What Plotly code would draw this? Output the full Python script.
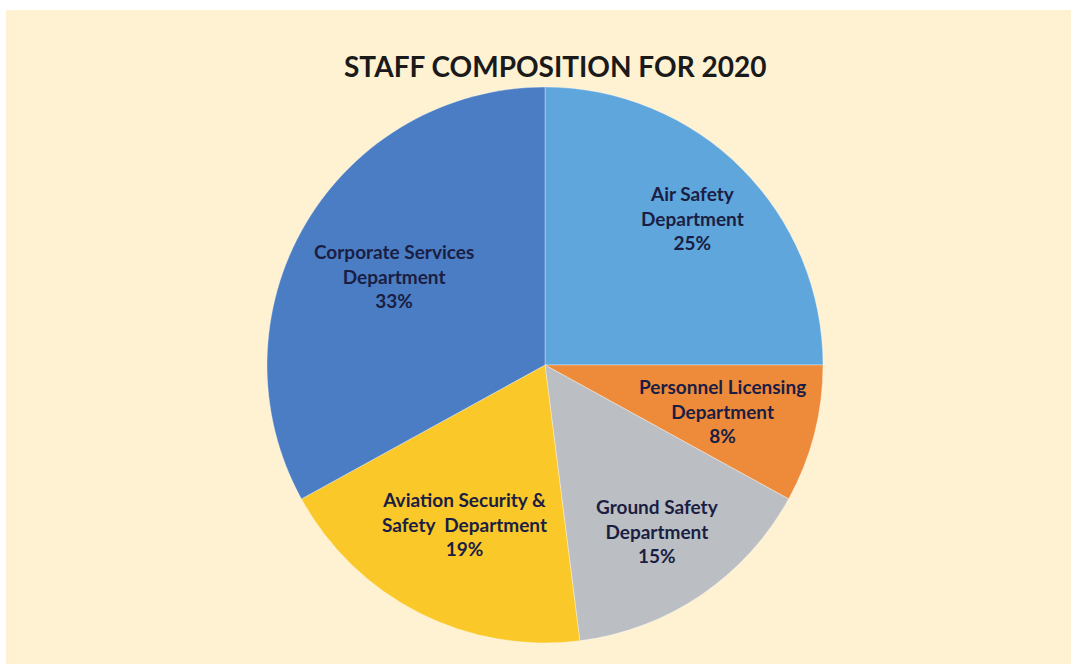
import numpy as np
import plotly.graph_objects as go

# Staff share by department, clockwise from 12 o'clock
departments = [
    "Air Safety<br>Department",
    "Personnel Licensing<br>Department",
    "Ground Safety<br>Department",
    "Aviation Security &<br>Safety  Department",
    "Corporate Services<br>Department",
]
shares = [25, 8, 15, 19, 33]
colors = ["#5FA6DD", "#EE8B3B", "#BBBEC3", "#FAC829", "#4A7DC3"]

title_text = "STAFF COMPOSITION FOR 2020"

W, H = 1071, 664
CX, CY = 545, 365          # pie centre (px from top-left)
R = 278                    # pie radius (px)
label_radius = [0.75, 0.66, 0.72, 0.64, 0.63]   # label distance from centre, fraction of R

BG = "#FEF2D3"
TEXT = "#1B1E43"

fig = go.Figure()
fig.add_trace(go.Pie(
    labels=departments,
    values=shares,
    sort=False,
    direction="clockwise",
    rotation=0,
    marker=dict(colors=colors, line=dict(color="rgba(255,255,255,0.35)", width=1)),
    textinfo="none",
    hoverinfo="label+percent",
    showlegend=False,
    domain=dict(x=[(CX - R) / W, (CX + R) / W],
                y=[(H - CY - R) / H, (H - CY + R) / H]),
))

# Slice labels placed along each slice's bisector
total = float(sum(shares))
cum = np.cumsum([0] + shares)
annotations = []
for i, (name, v) in enumerate(zip(departments, shares)):
    mid = (cum[i] + v / 2.0) / total * 2 * np.pi
    r = R * label_radius[i]
    px = CX + r * np.sin(mid)
    py = CY - r * np.cos(mid)
    annotations.append(dict(
        x=px / W, y=1 - py / H, xref="paper", yref="paper",
        text=f"{name}<br>{v}%", showarrow=False,
        xanchor="center", yanchor="middle", align="center",
        font=dict(family="Lato", size=19, color=TEXT, weight="bold"),
    ))

annotations.append(dict(
    x=555 / W, y=1 - 66 / H, xref="paper", yref="paper",
    text=title_text, showarrow=False, xanchor="center", yanchor="middle",
    font=dict(family="Lato", size=28, color="#1a1a1a", weight="bold"),
))

fig.update_layout(
    width=W, height=H,
    margin=dict(l=0, r=0, t=0, b=0),
    paper_bgcolor="white",
    plot_bgcolor="white",
    annotations=annotations,
    shapes=[dict(type="rect", xref="paper", yref="paper",
                 x0=6 / W, x1=1, y0=0, y1=1 - 10 / H,
                 fillcolor=BG, line=dict(width=0), layer="below")],
)

fig.write_html("out.html")
